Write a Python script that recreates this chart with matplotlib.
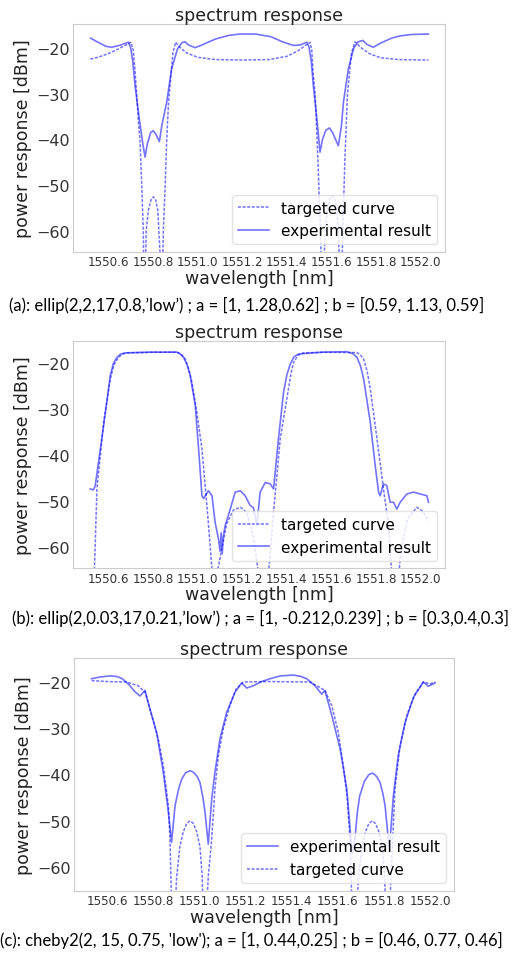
import matplotlib.pyplot as plt
import numpy as np

# (a) ellip filter
wl_a_target = [1550.520, 1550.560, 1550.600, 1550.640, 1550.680, 1550.702, 1550.712, 1550.720,
               1550.727, 1550.735, 1550.742, 1550.750, 1550.757, 1550.762, 1550.770, 1550.780,
               1550.792, 1550.802, 1550.812, 1550.822, 1550.832, 1550.838, 1550.847, 1550.855,
               1550.862, 1550.870, 1550.877, 1550.890, 1550.902, 1550.920, 1550.950, 1551.000,
               1551.080, 1551.200, 1551.320, 1551.400, 1551.450, 1551.480, 1551.504, 1551.512,
               1551.519, 1551.527, 1551.540, 1551.552, 1551.558, 1551.572, 1551.582, 1551.594,
               1551.604, 1551.614, 1551.625, 1551.635, 1551.642, 1551.651, 1551.660, 1551.672,
               1551.690, 1551.706, 1551.730, 1551.770, 1551.820, 1551.900, 1552.035]
db_a_target = [-22.4, -21.9, -21.2, -20.3, -19.3, -18.7, -20.5, -25,
               -30, -36, -40, -50, -60, -80, -60, -55.5,
               -53.2, -52.6, -53.2, -55.5, -65, -80, -60, -50,
               -40, -32, -28, -21, -18.7, -19.8, -21.0, -22.0,
               -22.5, -22.6, -22.5, -21.8, -20.6, -19.5, -18.7, -20.5,
               -26, -30, -45, -62, -80, -60, -55.3, -52.9,
               -52.4, -53.0, -55.5, -65, -80, -60, -45, -30,
               -21, -18.6, -19.8, -21.2, -22.1, -22.5, -22.6]
wl_a_exp = [1550.521, 1550.550, 1550.590, 1550.615, 1550.650, 1550.690, 1550.700, 1550.710,
            1550.720, 1550.739, 1550.755, 1550.765, 1550.775, 1550.790, 1550.802, 1550.815,
            1550.829, 1550.840, 1550.862, 1550.884, 1550.910, 1550.930, 1550.944, 1550.960,
            1550.989, 1551.020, 1551.080, 1551.140, 1551.190, 1551.260, 1551.330, 1551.380,
            1551.430, 1551.460, 1551.490, 1551.500, 1551.510, 1551.519, 1551.535, 1551.549,
            1551.560, 1551.575, 1551.591, 1551.605, 1551.631, 1551.645, 1551.654, 1551.676,
            1551.700, 1551.720, 1551.741, 1551.760, 1551.788, 1551.820, 1551.870, 1551.908,
            1551.960, 1552.035]
db_a_exp = [-17.8, -18.6, -19.6, -19.8, -19.4, -18.7, -19.8, -23,
            -28.2, -35.5, -41, -43.9, -41, -38.5, -38.1, -39,
            -40.5, -37, -31.8, -24.5, -20.2, -18.8, -18.6, -19.3,
            -19.9, -19.3, -18.0, -17.2, -16.9, -16.9, -17.5, -18.6,
            -19.4, -19.3, -18.7, -19.8, -23, -28.2, -35.5, -42.8,
            -40, -38, -37.5, -38.5, -41.4, -37, -31.8, -24.5,
            -20, -18.6, -18.3, -19.2, -19.8, -18.9, -17.8, -17.3,
            -17.0, -16.9]

# (b) ellip filter
wl_b_target = [1550.526, 1550.540, 1550.548, 1550.578, 1550.608, 1550.625, 1550.645, 1550.665,
               1550.683, 1550.800, 1550.907, 1550.925, 1550.944, 1550.960, 1550.974, 1550.996,
               1551.019, 1551.045, 1551.064, 1551.072, 1551.090, 1551.130, 1551.160, 1551.191,
               1551.220, 1551.250, 1551.273, 1551.294, 1551.317, 1551.340, 1551.370, 1551.407,
               1551.418, 1551.430, 1551.450, 1551.474, 1551.570, 1551.714, 1551.730, 1551.744,
               1551.760, 1551.774, 1551.804, 1551.833, 1551.856, 1551.870, 1551.885, 1551.908,
               1551.940, 1551.983, 1552.010, 1552.035]
db_b_target = [-80, -60, -47.4, -32.9, -23.4, -20.3, -18.7, -18.0,
               -17.75, -17.6, -17.6, -18.0, -19.1, -21.3, -24.1, -30.7,
               -38.7, -53.2, -65, -80, -65, -55, -52, -51.4,
               -52.5, -58, -66, -80, -66, -52.5, -36.5, -25.6,
               -22.3, -19.8, -18.3, -17.75, -17.6, -17.7, -18.2, -19.1,
               -21.8, -25.6, -36.5, -47.4, -55.4, -66, -80, -62,
               -54, -51.4, -52.3, -54.3]
wl_b_exp = [1550.518, 1550.532, 1550.540, 1550.578, 1550.608, 1550.622, 1550.638, 1550.655,
            1550.675, 1550.800, 1550.907, 1550.922, 1550.936, 1550.952, 1550.966, 1550.989,
            1551.004, 1551.019, 1551.026, 1551.048, 1551.064, 1551.078, 1551.093, 1551.100,
            1551.105, 1551.110, 1551.114, 1551.123, 1551.146, 1551.168, 1551.191, 1551.213,
            1551.235, 1551.250, 1551.265, 1551.280, 1551.303, 1551.325, 1551.340, 1551.362,
            1551.385, 1551.400, 1551.415, 1551.432, 1551.452, 1551.560, 1551.669, 1551.695,
            1551.714, 1551.730, 1551.744, 1551.774, 1551.796, 1551.811, 1551.818, 1551.833,
            1551.848, 1551.863, 1551.878, 1551.893, 1551.908, 1551.938, 1551.968, 1551.998,
            1552.028, 1552.035]
db_b_exp = [-47.4, -47.6, -46.8, -33.6, -22.7, -20.0, -18.7, -18.0,
            -17.75, -17.6, -17.6, -18.0, -18.7, -20.3, -22.7, -29.2,
            -38.7, -48.9, -49.5, -47.8, -48.9, -54.7, -58.3, -61,
            -57, -61.5, -58, -55.4, -51.8, -48.1, -47.8, -48.9,
            -51, -51.5, -55.4, -48.1, -46, -46.3, -47.4, -36.5,
            -26.3, -22.5, -20.2, -18.6, -18.0, -17.6, -17.5, -17.9,
            -18.7, -20.6, -23.4, -32.9, -42.3, -48.1, -48.9, -46.3,
            -46.7, -50.3, -50.3, -51.8, -50.3, -48.5, -48.1, -48.5,
            -48.9, -50.3]

# (c) cheby2 filter
wl_c_target = [1550.532, 1550.600, 1550.684, 1550.734, 1550.764, 1550.793, 1550.821, 1550.843,
               1550.865, 1550.872, 1550.885, 1550.901, 1550.915, 1550.930, 1550.945, 1550.959,
               1550.973, 1550.988, 1551.002, 1551.012, 1551.020, 1551.038, 1551.053, 1551.067,
               1551.082, 1551.103, 1551.132, 1551.159, 1551.190, 1551.300, 1551.479, 1551.544,
               1551.574, 1551.602, 1551.624, 1551.641, 1551.653, 1551.668, 1551.690, 1551.705,
               1551.720, 1551.735, 1551.749, 1551.763, 1551.778, 1551.793, 1551.803, 1551.815,
               1551.838, 1551.848, 1551.870, 1551.899, 1551.935, 1551.971, 1552.000, 1552.022]
db_c_target = [-19.8, -20.0, -20.1, -20.9, -22.3, -27.3, -32.3, -38.1,
               -46.7, -53.9, -80, -62, -55.5, -52.3, -50.5, -50.0,
               -50.5, -52.3, -55.5, -62, -80, -62, -53.9, -43.1,
               -35.9, -30.2, -25.2, -21.6, -20.1, -20.0, -20.1, -21.9,
               -25.2, -30.9, -38.1, -45.3, -53.9, -80, -62, -55.5,
               -52.3, -50.5, -50.0, -50.5, -52.3, -55.5, -62, -80,
               -53.9, -43.1, -33.8, -27.3, -22.7, -20.1, -20.5, -20.1]
wl_c_exp = [1550.532, 1550.570, 1550.612, 1550.640, 1550.662, 1550.680, 1550.698, 1550.720,
            1550.742, 1550.764, 1550.785, 1550.814, 1550.843, 1550.865, 1550.879, 1550.894,
            1550.910, 1550.923, 1550.940, 1550.959, 1550.970, 1550.980, 1550.992, 1551.002,
            1551.015, 1551.024, 1551.038, 1551.053, 1551.067, 1551.089, 1551.118, 1551.154,
            1551.183, 1551.205, 1551.233, 1551.270, 1551.306, 1551.349, 1551.407, 1551.440,
            1551.465, 1551.501, 1551.530, 1551.544, 1551.574, 1551.610, 1551.639, 1551.662,
            1551.674, 1551.685, 1551.695, 1551.715, 1551.735, 1551.751, 1551.768, 1551.783,
            1551.795, 1551.805, 1551.819, 1551.824, 1551.841, 1551.862, 1551.892, 1551.928,
            1551.971, 1551.993, 1552.022]
db_c_exp = [-19.4, -19.0, -18.8, -18.9, -19.3, -20.0, -20.9, -22.2,
            -23.1, -21.9, -25.9, -30.9, -39.5, -48.1, -54.6, -46.7,
            -43.0, -41.0, -39.6, -39.2, -39.4, -39.8, -40.6, -41.7,
            -45.0, -48.1, -55.0, -45.3, -39.5, -32.3, -26.6, -22.3,
            -20.3, -21.4, -20.9, -20.0, -19.4, -18.8, -18.6, -18.9,
            -19.4, -20.9, -22.7, -21.9, -27.3, -34.5, -43.1, -57,
            -53.9, -48.0, -44.6, -41.5, -40.0, -39.7, -40.4, -41.7,
            -44.0, -46.7, -53.9, -56, -44.6, -35.9, -28.8, -23.4,
            -20.1, -21.0, -20.3]

captions = ["(a): ellip(2,2,17,0.8,\u2019low\u2019) ; a = [1, 1.28,0.62] ; b = [0.59, 1.13, 0.59]",
            "(b): ellip(2,0.03,17,0.21,\u2019low\u2019) ; a = [1, -0.212,0.239] ; b = [0.3,0.4,0.3]",
            "(c): cheby2(2, 15, 0.75, 'low'); a = [1, 0.44,0.25] ; b = [0.46, 0.77, 0.46]"]
xticks = [1550.6, 1550.8, 1551.0, 1551.2, 1551.4, 1551.6, 1551.8, 1552.0]

W, H = 519, 954
fig = plt.figure(figsize=(W / 100, H / 100), dpi=100)

# axes boxes in pixels: left, top, right, bottom
boxes = [(73, 25, 445, 253), (73.3, 341.7, 445, 569.3), (74.3, 659.3, 454, 891.7)]
xlims = [(1550.442, 1552.109), (1550.442, 1552.109), (1550.457, 1552.104)]
ylims = [(-64.7, -14.7), (-64.7, -15.1), (-65.0, -15.0)]
cap_pos = [(247, 305), (261, 618), (251, 940)]

panels = [(wl_a_target, db_a_target, wl_a_exp, db_a_exp, False),
          (wl_b_target, db_b_target, wl_b_exp, db_b_exp, False),
          (wl_c_target, db_c_target, wl_c_exp, db_c_exp, True)]

col = (0.0, 0.0, 1.0)
for i, (wt, dt, we, de, exp_first) in enumerate(panels):
    l, t, r, b = boxes[i]
    ax = fig.add_axes([l / W, 1 - b / H, (r - l) / W, (b - t) / H])
    if exp_first:
        ax.plot(we, de, color=col, alpha=0.55, lw=1.2, label="experimental result")
        ax.plot(wt, dt, color=col, alpha=0.55, lw=1.1, ls=(0, (2, 1)), label="targeted curve")
    else:
        ax.plot(wt, dt, color=col, alpha=0.55, lw=1.1, ls=(0, (2, 1)), label="targeted curve")
        ax.plot(we, de, color=col, alpha=0.55, lw=1.2, label="experimental result")
    ax.set_xlim(*xlims[i])
    ax.set_ylim(*ylims[i])
    ax.set_xticks(xticks)
    ax.set_xticklabels(["%.1f" % v for v in xticks])
    ax.set_yticks([-20, -30, -40, -50, -60])
    ax.tick_params(axis="x", length=0, pad=2.5, labelsize=8.6, colors="#333333")
    ax.tick_params(axis="y", length=0, pad=2.5, labelsize=11.5, colors="#333333")
    for s in ax.spines.values():
        s.set_color("#cccccc")
    ax.set_title("spectrum response", fontsize=12.5, pad=3, color="#222222")
    ax.set_xlabel("wavelength [nm]", fontsize=12.5, labelpad=0.5, color="#222222")
    ax.set_ylabel("power response [dBm]", fontsize=12.5, labelpad=3, color="#222222")
    ax.legend(loc="lower right", fontsize=11, borderaxespad=0.5, edgecolor="#dddddd")
    fig.text(cap_pos[i][0] / W, 1 - cap_pos[i][1] / H, captions[i], ha="center", va="center",
             fontsize=12, family="Lato", color="black")

fig.savefig("out.png", dpi=100)
